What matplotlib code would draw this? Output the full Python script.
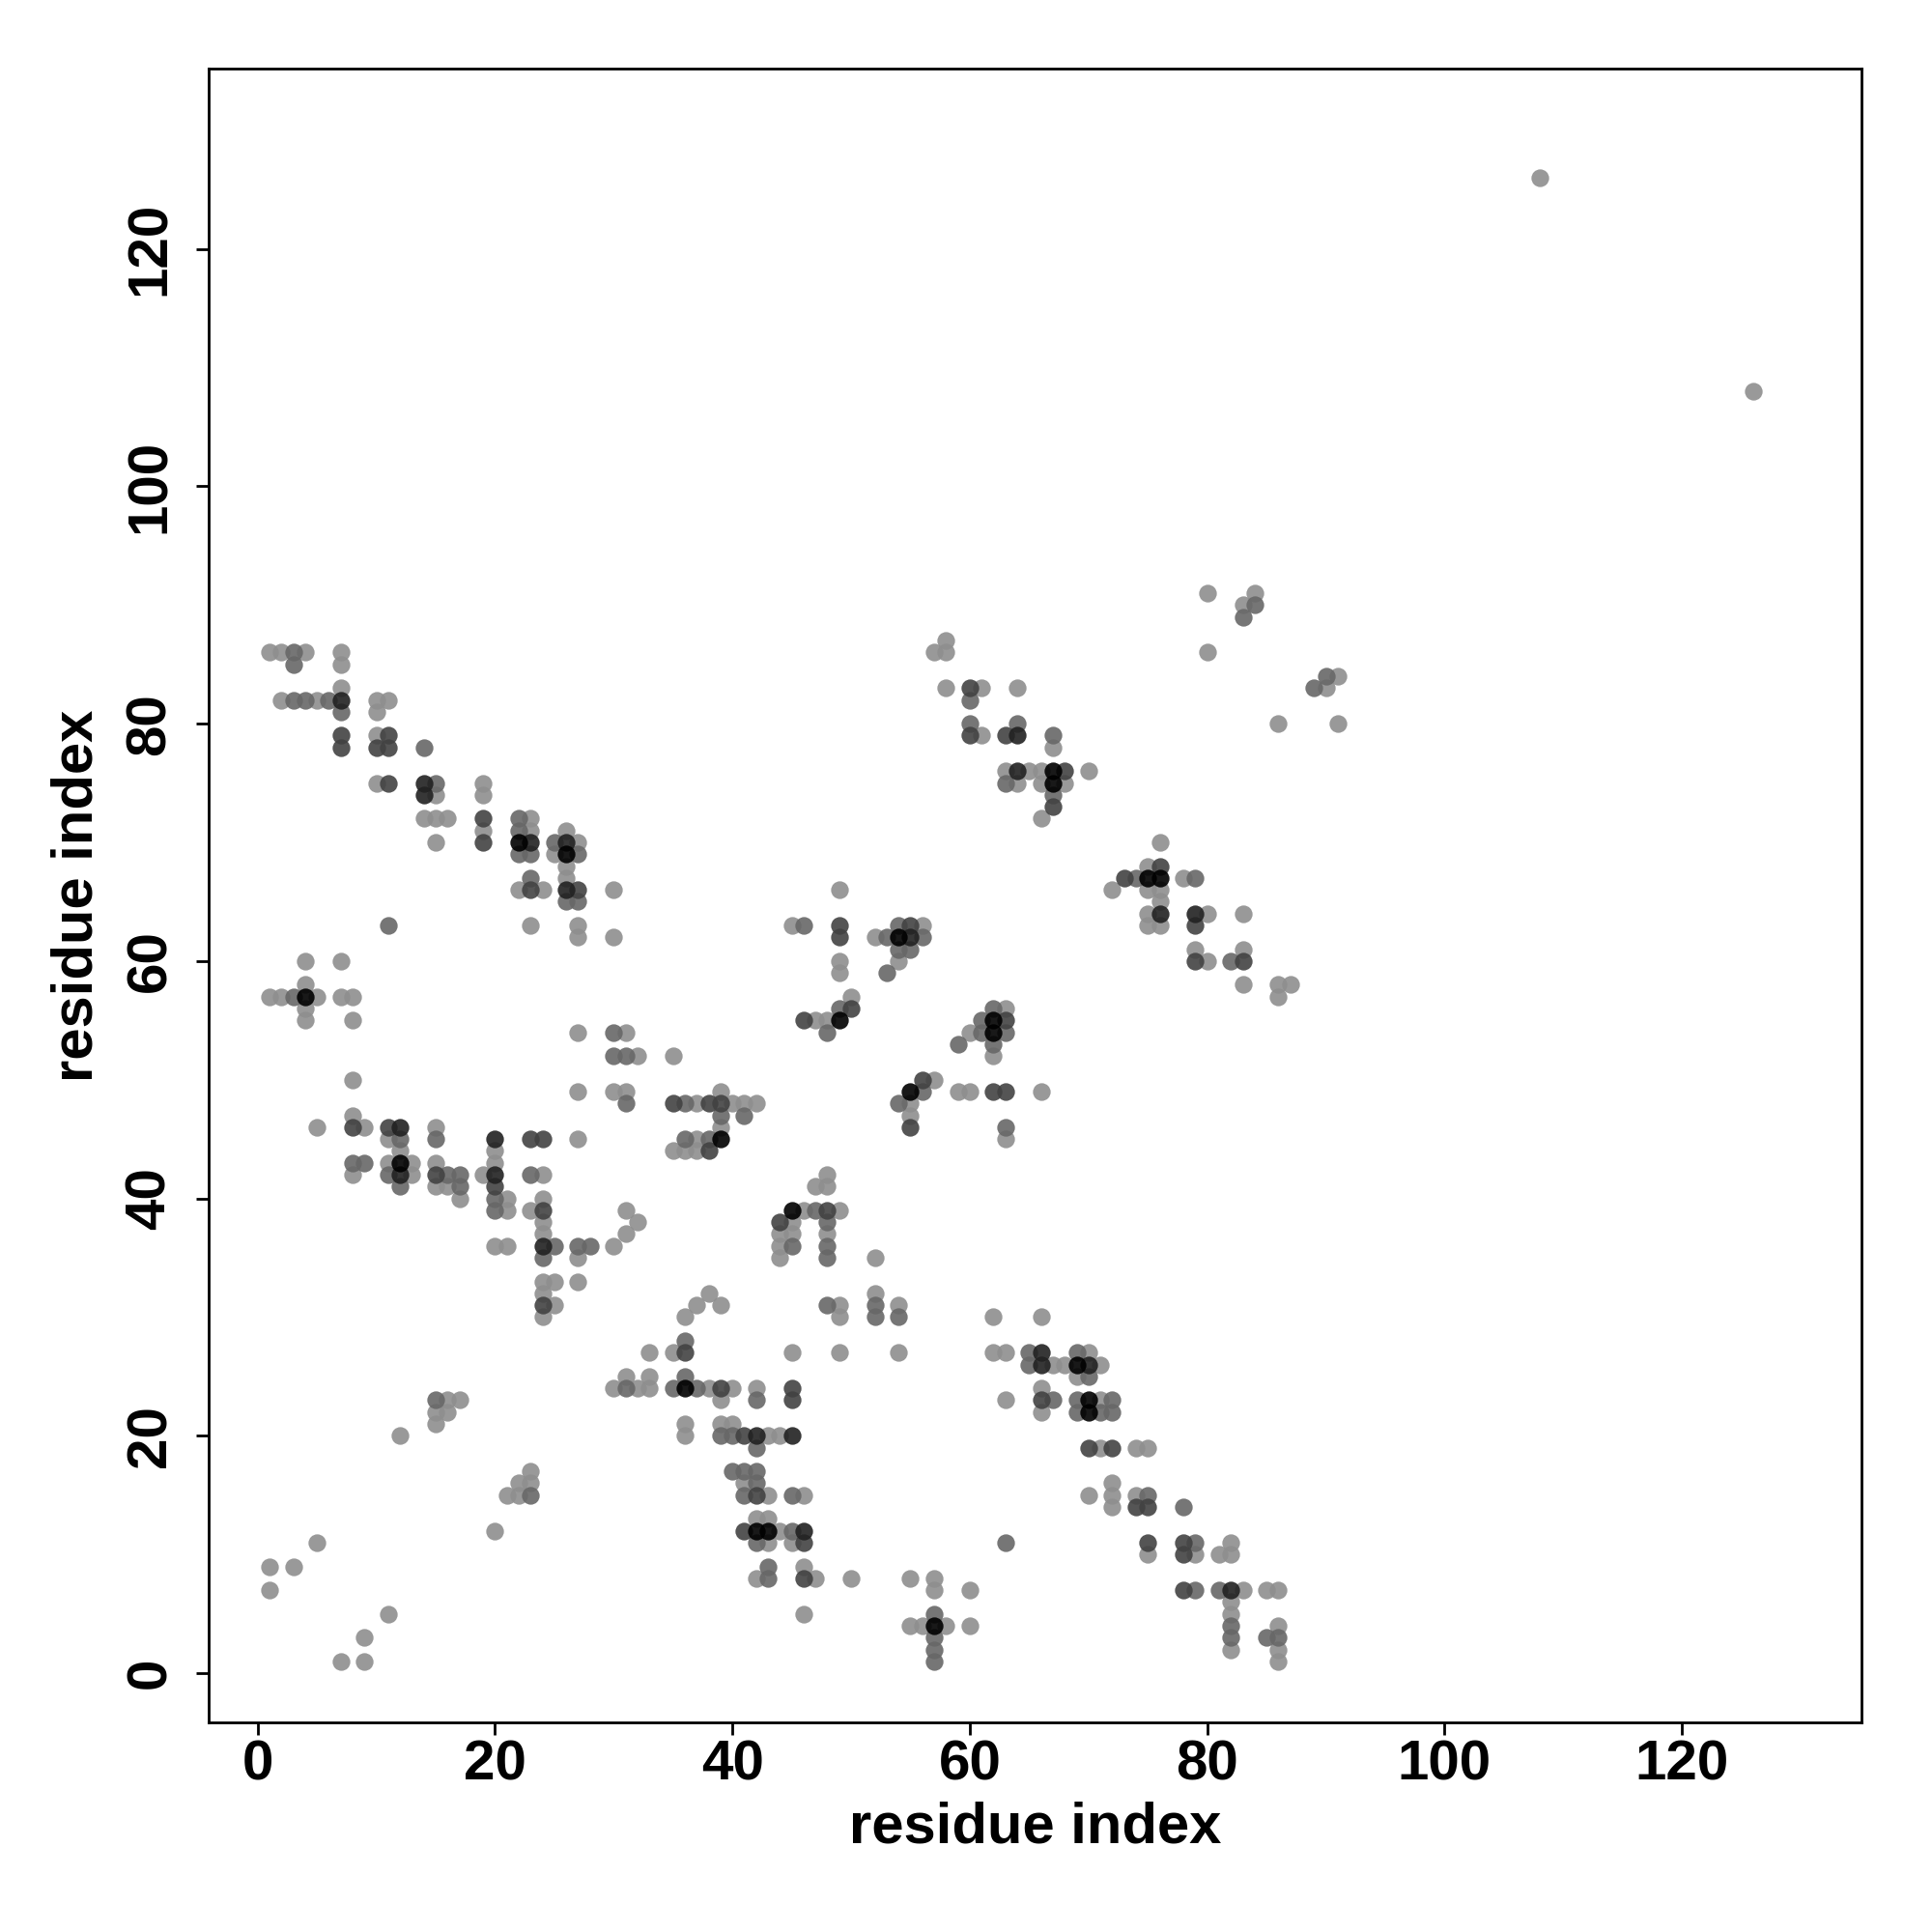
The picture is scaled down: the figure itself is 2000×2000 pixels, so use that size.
import matplotlib
matplotlib.use('Agg')
import matplotlib.pyplot as plt

'''
contact map: residue index vs residue index, grey dots, darker = stronger contact
saves out.png, 2000x2000 pixels
'''

# contacts grouped by shade, 1 = light grey ... 5 = near black
level1 = [(16, 23), (17, 23), (15, 22), (16, 22), (15, 21), (12, 20), (23, 17), (22, 16), (23, 16),
          (21, 15), (22, 15), (20, 12), (1, 9), (3, 9), (1, 7), (5, 11), (11, 5), (9, 3), (7, 1), (9, 1),
          (4, 60), (7, 60), (1, 57), (2, 57), (5, 57), (7, 57), (8, 57), (4, 58), (4, 56), (4, 55), (8, 55),
          (8, 50), (8, 47), (9, 46), (5, 46), (11, 45), (12, 44), (8, 42), (11, 43), (13, 43), (13, 42),
          (15, 46), (15, 43), (15, 41), (16, 41), (17, 40), (19, 42), (20, 44), (20, 43), (21, 40), (21, 39),
          (24, 42), (24, 40), (23, 39), (24, 38), (24, 37), (20, 36), (21, 36), (27, 35), (30, 36), (24, 33),
          (25, 33), (24, 32), (25, 31), (24, 30), (27, 33), (27, 45), (27, 54), (27, 49), (30, 49),
          (1, 86), (2, 86), (4, 86), (7, 86), (7, 85), (7, 83), (2, 82), (5, 82), (10, 82), (11, 82), (10, 81),
          (10, 79), (10, 75), (15, 74), (14, 72), (15, 72), (16, 72), (15, 70), (19, 75), (19, 74), (19, 71),
          (23, 72), (23, 71), (27, 70), (26, 71), (25, 69), (26, 68), (26, 67), (22, 66), (24, 66), (30, 66),
          (23, 63), (27, 63), (27, 62), (30, 62),
          (58, 87), (57, 86), (58, 86), (58, 83), (61, 83), (61, 79), (49, 66), (45, 63), (56, 63), (52, 62),
          (49, 60), (49, 59), (54, 60), (50, 57), (47, 55), (48, 55), (31, 54), (32, 52), (35, 52), (31, 49),
          (37, 48), (40, 48), (41, 48), (42, 48), (39, 49), (39, 46), (37, 45), (35, 44), (36, 44), (37, 44),
          (57, 50), (55, 48), (55, 47), (59, 49), (60, 49), (60, 54), (62, 52), (63, 56), (48, 42), (47, 41),
          (48, 41), (46, 39), (49, 39), (45, 38), (44, 37), (45, 37), (48, 37), (44, 36), (44, 35), (52, 35),
          (31, 39), (32, 38), (31, 37), (38, 32), (37, 31), (39, 31), (52, 32), (49, 31), (54, 31),
          (36, 30), (49, 30), (62, 30), (35, 27), (33, 27), (45, 27), (49, 27), (54, 27), (62, 27), (31, 25),
          (33, 25), (30, 24), (32, 24), (33, 24), (38, 24), (40, 24), (42, 24), (39, 23), (36, 21), (36, 20),
          (39, 21), (40, 21), (43, 20), (44, 20), (41, 16), (43, 15), (46, 15), (42, 13), (43, 13), (44, 12),
          (43, 11), (45, 11), (42, 8), (46, 9), (47, 8), (50, 8), (46, 5), (55, 8), (57, 8), (57, 7), (60, 7),
          (55, 4), (56, 4), (58, 4), (60, 4),
          (80, 91), (84, 91), (83, 90), (80, 86), (91, 84), (90, 83), (86, 80), (91, 80), (64, 83), (67, 78),
          (63, 76), (65, 76), (66, 76), (70, 76), (64, 75), (66, 75), (68, 75), (66, 72), (76, 70), (75, 68),
          (78, 67), (72, 66), (75, 66), (76, 66), (76, 65), (75, 64), (80, 64), (83, 64), (75, 63), (76, 63),
          (79, 61), (83, 61), (80, 60), (83, 58), (86, 58), (87, 58), (86, 57), (66, 49), (63, 45),
          (66, 30), (63, 27), (70, 27), (67, 26), (68, 26), (71, 26), (69, 25), (66, 24), (63, 23), (71, 23),
          (66, 22), (71, 19), (74, 19), (75, 19), (72, 16), (70, 15), (72, 15), (74, 15), (72, 14), (75, 10),
          (79, 10), (81, 10), (82, 10), (82, 11), (83, 7), (85, 7), (86, 7), (82, 6), (82, 5), (82, 2),
          (86, 4), (86, 2), (86, 1),
          (108, 126), (126, 108)]

level2 = [(15, 23), (23, 15), (3, 57), (12, 45), (8, 43), (9, 43), (11, 42), (12, 41), (15, 45), (16, 42),
          (17, 42), (17, 41), (20, 40), (20, 39), (23, 42), (25, 36), (24, 35), (27, 36), (28, 36), (30, 54),
          (3, 86), (3, 85), (3, 82), (4, 82), (6, 82), (7, 81), (14, 78), (15, 75), (22, 72), (22, 71),
          (22, 69), (23, 69), (25, 70), (27, 69), (23, 67), (26, 65), (27, 65), (11, 63), (60, 82), (60, 80),
          (46, 63), (54, 63), (53, 62), (56, 62), (54, 61), (55, 61), (53, 59), (49, 56), (48, 54), (30, 52),
          (31, 52), (31, 48), (36, 48), (39, 47), (41, 47), (36, 45), (38, 45), (56, 49), (54, 48), (59, 53),
          (61, 54), (61, 55), (62, 56), (62, 53), (63, 54), (47, 39), (48, 38), (45, 36), (48, 36), (48, 35),
          (48, 31), (52, 31), (52, 30), (54, 30), (36, 28), (36, 25), (31, 24), (35, 24), (37, 24), (42, 23),
          (39, 20), (40, 20), (42, 19), (40, 17), (41, 17), (42, 17), (42, 16), (41, 15), (45, 15), (45, 12),
          (42, 11), (43, 9), (43, 8), (57, 5), (57, 3), (57, 2), (57, 1), (84, 90), (83, 89), (90, 84),
          (89, 83), (64, 80), (67, 79), (63, 75), (67, 74), (74, 67), (79, 67), (82, 60), (63, 46), (65, 27),
          (69, 27), (65, 26), (70, 25), (67, 23), (69, 23), (72, 23), (69, 22), (71, 22), (72, 22), (75, 15),
          (78, 14), (63, 11), (79, 11), (79, 7), (81, 7), (82, 4), (82, 3), (85, 3), (86, 3)]

level3 = [(8, 46), (11, 46), (15, 42), (20, 41), (23, 45), (24, 45), (24, 39), (24, 31), (7, 79), (7, 78),
          (11, 79), (10, 78), (11, 78), (11, 75), (19, 72), (19, 70), (23, 66), (27, 66), (60, 83), (60, 79),
          (49, 63), (49, 62), (55, 63), (50, 56), (46, 55), (35, 48), (38, 48), (39, 48), (38, 44), (56, 50),
          (55, 46), (62, 49), (63, 49), (63, 55), (48, 39), (44, 38), (36, 27), (39, 24), (45, 24), (45, 23),
          (41, 20), (42, 15), (41, 12), (46, 11), (46, 8), (63, 79), (68, 76), (67, 73), (76, 68), (73, 67),
          (79, 63), (79, 60), (83, 60), (66, 23), (70, 19), (72, 19), (74, 14), (75, 14), (75, 11), (78, 11),
          (78, 10), (78, 7)]

level4 = [(12, 46), (12, 42), (20, 45), (20, 42), (24, 36), (7, 82), (14, 75), (14, 74), (23, 70), (26, 70),
          (26, 66), (55, 62), (42, 20), (45, 20), (46, 12), (64, 79), (64, 76), (76, 64), (79, 64), (66, 27),
          (66, 26), (70, 26), (82, 7)]

level5 = [(4, 57), (12, 43), (39, 45), (22, 70), (26, 69), (54, 62), (49, 55), (55, 49), (62, 55), (62, 54),
          (45, 39), (36, 24), (42, 12), (43, 12), (57, 4), (67, 76), (67, 75), (75, 67), (76, 67), (69, 26),
          (70, 23), (70, 22)]

shades = ['#8e8e8e', '#676767', '#424242', '#212121', '#000000']

ticks = [0, 20, 40, 60, 80, 100, 120]


def plot_map():
    fig = plt.figure(figsize=(20, 20), dpi=100)
    ax = fig.add_axes([0.1078, 0.1084, 0.8559, 0.8559])

    # light ones first so the dark ones sit on top
    for pts, col in zip([level1, level2, level3, level4, level5], shades):
        xs = [p[0] for p in pts]
        ys = [p[1] for p in pts]
        ax.scatter(xs, ys, s=174, c=col, alpha=0.9, linewidths=0)

    ax.set_xlim(-4.16, 135.16)
    ax.set_ylim(-4.16, 135.16)
    ax.set_xticks(ticks)
    ax.set_yticks(ticks)

    for sp in ax.spines.values():
        sp.set_linewidth(2)

    ax.tick_params(length=9.4, width=2, labelsize=42)
    ax.tick_params(axis='x', pad=3)
    ax.tick_params(axis='y', pad=14)
    for lab in ax.get_xticklabels() + ax.get_yticklabels():
        lab.set_fontfamily('Liberation Sans')
        lab.set_fontweight('bold')
    for lab in ax.get_yticklabels():
        lab.set_rotation(90)
        lab.set_va('center')

    ax.set_xlabel('residue index', fontsize=43, fontweight='bold', family='Liberation Sans')
    ax.set_ylabel('residue index', fontsize=43, fontweight='bold', family='Liberation Sans')
    ax.xaxis.set_label_coords(0.5, -0.0636)
    ax.yaxis.set_label_coords(-0.0792, 0.5)
    ax.xaxis.label.set_va('center')
    ax.yaxis.label.set_va('center')

    fig.savefig('out.png', dpi=100)


plot_map()
